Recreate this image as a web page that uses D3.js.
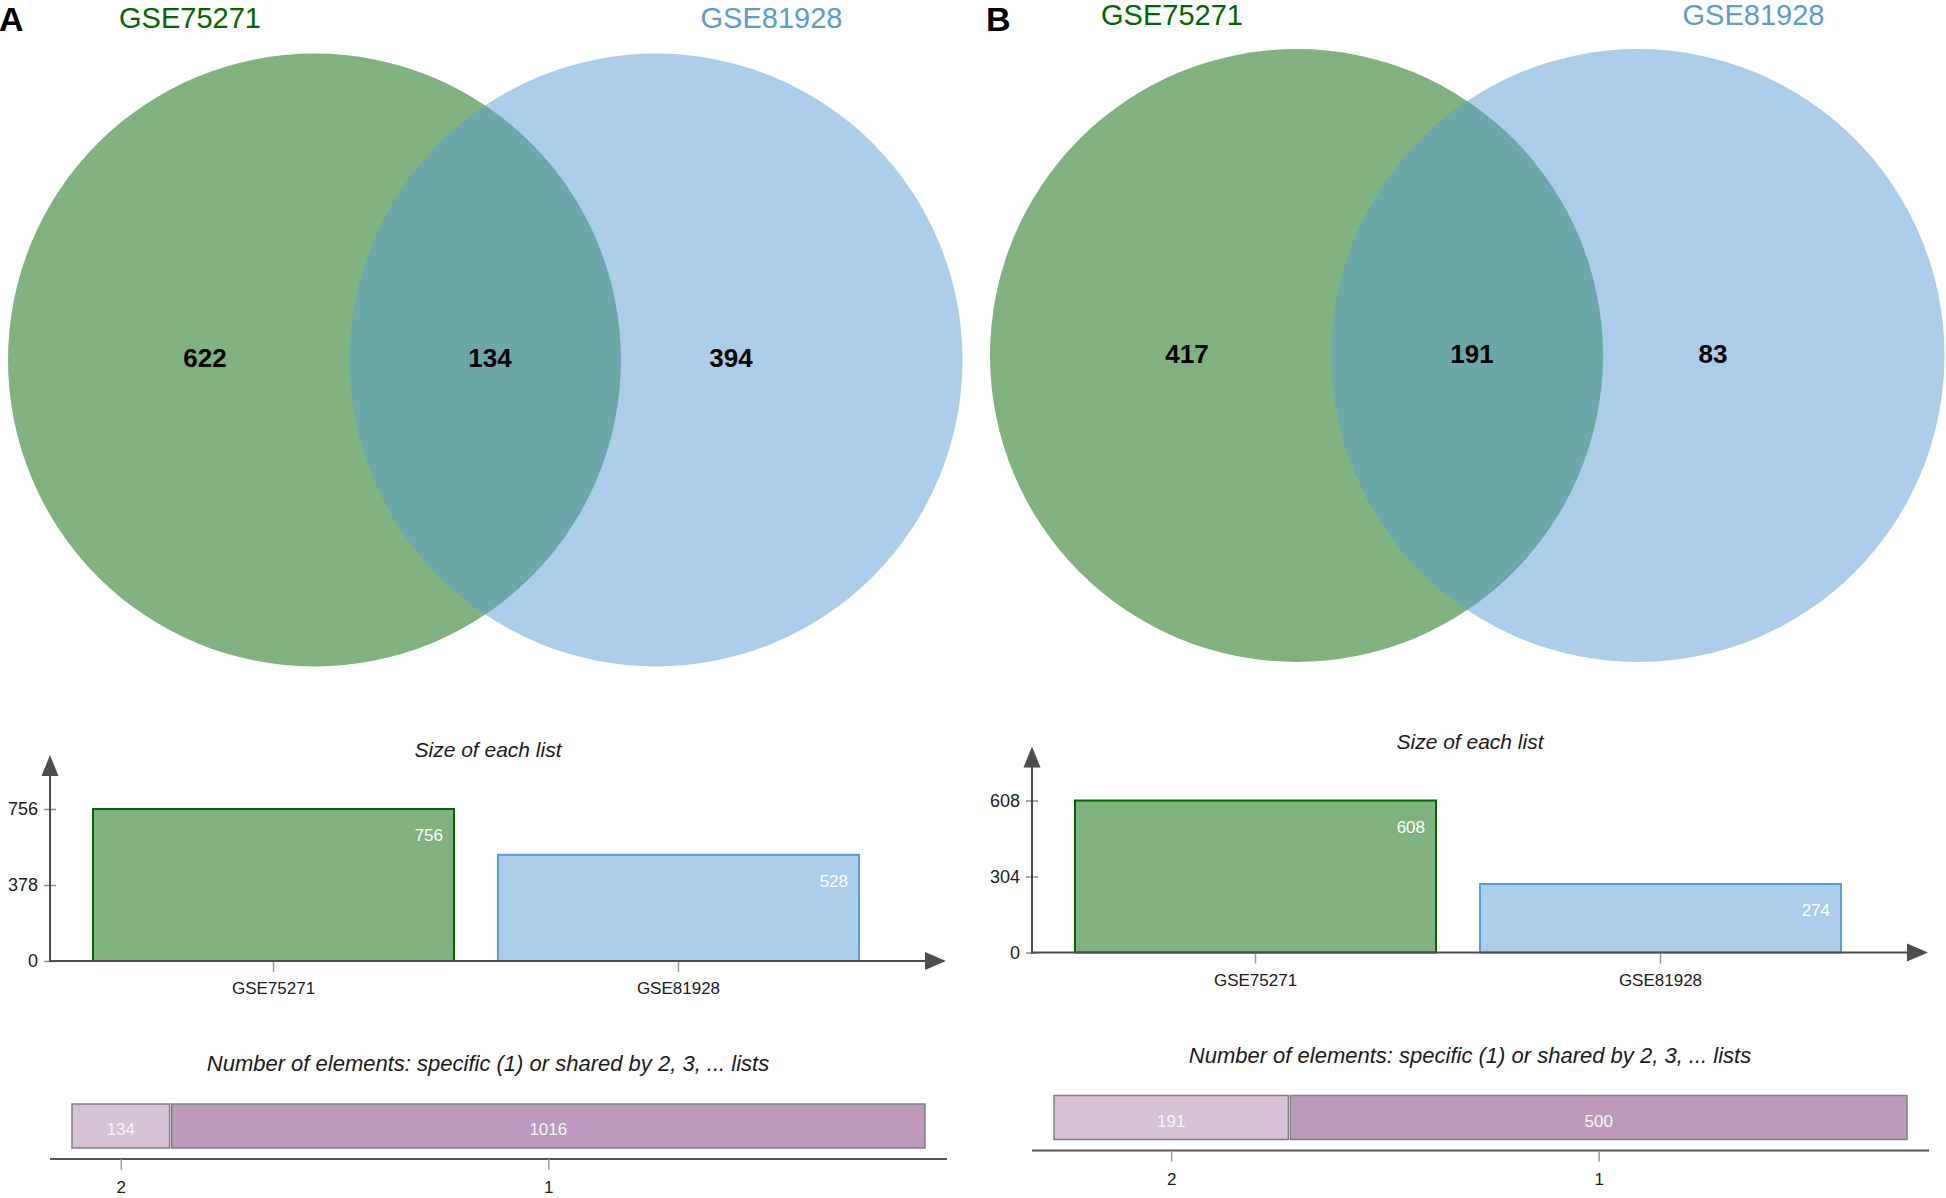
<!DOCTYPE html>
<html>
<head>
<meta charset="utf-8">
<script src="https://cdn.jsdelivr.net/npm/d3@7"></script>
<style>
  html, body { margin: 0; padding: 0; background: #ffffff; }
  svg { display: block; font-family: "Liberation Sans", Arial, sans-serif; }
</style>
</head>
<body>
<svg id="chart" width="1946" height="1198"></svg>
<script>
// ---------------- DATA ----------------
const setNames = ["GSE75271", "GSE81928"];
const setColors = ["#006600", "#5a9bd4"];
const panelLetters = ["A", "B"];

// Venn region counts: [only set 1, shared, only set 2]
const vennCountsA = [622, 134, 394];
const vennCountsB = [417, 191, 83];

// Size of each list
const listSizesA = [756, 528];
const listSizesB = [608, 274];
const yTicksA = [0, 378, 756];
const yTicksB = [0, 304, 608];

// Number of elements shared by k lists
const sharedLabels = ["2", "1"];
const sharedCountsA = [134, 1016];
const sharedCountsB = [191, 500];
const sharedColors = ["#d6c1d7", "#bd9abd"];

// ---------------- LAYOUT ----------------
const svg = d3.select("#chart");
svg.append("rect").attr("width", 1946).attr("height", 1198).attr("fill", "#ffffff");

const panels = [
  { letter: panelLetters[0], venn: vennCountsA, sizes: listSizesA, yTicks: yTicksA, shared: sharedCountsA, dx: 0, vdy: 0, cdy: 0, lx: -1 },
  { letter: panelLetters[1], venn: vennCountsB, sizes: listSizesB, yTicks: yTicksB, shared: sharedCountsB, dx: 982, vdy: -4.5, cdy: -8.5, lx: 4 }
];

const venn = { cy: 360, r: 306.5, cx: [314.5, 656], labelX: [205, 490, 731], labelY: 367 };
const axisColor = "#4d4d4d";
const textColor = "#1a1a1a";

panels.forEach(p => {
  const g = svg.append("g").attr("transform", `translate(${p.dx},0)`);

  // Panel letter
  g.append("text").attr("x", p.lx).attr("y", 30.5)
    .attr("font-size", 34).attr("font-weight", "bold").attr("fill", "#000")
    .text(p.letter);

  // Set names
  const nameX = [190, 771.5];
  g.selectAll("text.setname").data(setNames).join("text")
    .attr("class", "setname")
    .attr("x", (d, i) => nameX[i]).attr("y", 27.5 + p.vdy + (p.dx ? 1.5 : 0))
    .attr("text-anchor", "middle").attr("font-size", 29)
    .attr("fill", (d, i) => setColors[i]).text(d => d);

  // Venn
  const gv = g.append("g").attr("transform", `translate(0,${p.vdy})`);
  gv.selectAll("circle").data(setNames).join("circle")
    .attr("cx", (d, i) => venn.cx[i]).attr("cy", venn.cy).attr("r", venn.r)
    .attr("fill", (d, i) => setColors[i]).attr("fill-opacity", 0.5);
  gv.selectAll("text.cnt").data(p.venn).join("text")
    .attr("class", "cnt")
    .attr("x", (d, i) => venn.labelX[i]).attr("y", venn.labelY)
    .attr("text-anchor", "middle").attr("font-size", 26).attr("font-weight", "bold")
    .attr("fill", "#000").text(d => d);

  // ---- Size of each list ----
  const gc = g.append("g").attr("transform", `translate(0,${p.cdy})`);
  const y0 = 961;
  const y = d3.scaleLinear().domain([0, d3.max(p.sizes)]).range([y0, 809]);
  const x = d3.scaleBand().domain(setNames).range([93, 859]).paddingInner(0.1086).paddingOuter(0);

  gc.append("text").attr("x", 488).attr("y", 757).attr("text-anchor", "middle")
    .attr("font-size", 21).attr("font-style", "italic").attr("fill", textColor)
    .text("Size of each list");

  gc.selectAll("rect.bar").data(p.sizes).join("rect")
    .attr("class", "bar")
    .attr("x", (d, i) => x(setNames[i])).attr("y", d => y(d))
    .attr("width", x.bandwidth()).attr("height", d => y0 - y(d))
    .attr("fill", (d, i) => setColors[i]).attr("fill-opacity", 0.5)
    .attr("stroke", (d, i) => setColors[i]).attr("stroke-width", 2);

  gc.selectAll("text.val").data(p.sizes).join("text")
    .attr("class", "val")
    .attr("x", (d, i) => x(setNames[i]) + x.bandwidth() - 11).attr("y", d => y(d) + 32)
    .attr("text-anchor", "end").attr("font-size", 17).attr("fill", "#ffffff")
    .text(d => d);

  // y axis
  const yAxis = gc.append("g").attr("transform", "translate(50,0)")
    .call(d3.axisLeft(y).tickValues(p.yTicks).tickSize(6).tickPadding(6).tickFormat(d3.format("d")));
  yAxis.select(".domain").remove();
  yAxis.selectAll(".tick line").attr("x1", -6).attr("x2", 6).attr("stroke", "#888").attr("stroke-width", 1.5);
  yAxis.selectAll(".tick text").attr("font-size", 18).attr("fill", textColor)
    .attr("font-family", "Liberation Sans, Arial, sans-serif");

  // x axis
  const xAxis = gc.append("g").attr("transform", `translate(0,${y0})`)
    .call(d3.axisBottom(x).tickSize(11).tickPadding(10));
  xAxis.select(".domain").remove();
  xAxis.selectAll(".tick line").attr("stroke", "#999").attr("stroke-width", 1.5);
  xAxis.selectAll(".tick text").attr("font-size", 17).attr("fill", textColor)
    .attr("font-family", "Liberation Sans, Arial, sans-serif");

  // axis lines with arrows
  gc.append("line").attr("x1", 50).attr("x2", 50).attr("y1", y0 + 1).attr("y2", 775)
    .attr("stroke", axisColor).attr("stroke-width", 2);
  gc.append("path").attr("d", "M41.5,776 L58.5,776 L50,755 Z").attr("fill", axisColor);
  gc.append("line").attr("x1", 49).attr("x2", 926).attr("y1", y0).attr("y2", y0)
    .attr("stroke", axisColor).attr("stroke-width", 2);
  gc.append("path").attr("d", `M925,${y0 - 9} L925,${y0 + 9} L946,${y0} Z`).attr("fill", axisColor);

  // ---- Number of elements ----
  gc.append("text").attr("x", 488).attr("y", 1071).attr("text-anchor", "middle")
    .attr("font-size", 22).attr("font-style", "italic").attr("fill", textColor)
    .text("Number of elements: specific (1) or shared by 2, 3, ... lists");

  const total = d3.sum(p.shared);
  const xs = d3.scaleLinear().domain([0, total]).range([71, 926]);
  const starts = p.shared.map((d, i) => d3.sum(p.shared.slice(0, i)));
  const mids = p.shared.map((d, i) => starts[i] + d / 2);

  gc.selectAll("rect.seg").data(p.shared).join("rect")
    .attr("class", "seg")
    .attr("x", (d, i) => xs(starts[i]) + 1).attr("y", 1104)
    .attr("width", (d, i) => xs(starts[i] + d) - xs(starts[i]) - 2).attr("height", 44)
    .attr("fill", (d, i) => sharedColors[i])
    .attr("stroke", "#7f7f7f").attr("stroke-width", 1.5);

  gc.selectAll("text.seg").data(p.shared).join("text")
    .attr("class", "seg")
    .attr("x", (d, i) => xs(mids[i])).attr("y", 1135)
    .attr("text-anchor", "middle").attr("font-size", 17).attr("fill", "#f8f8f8")
    .text(d => d);

  gc.append("line").attr("x1", 50).attr("x2", 947).attr("y1", 1159).attr("y2", 1159)
    .attr("stroke", "#555").attr("stroke-width", 2);
  const sAxis = gc.append("g").attr("transform", "translate(0,1159)")
    .call(d3.axisBottom(xs).tickValues(mids).tickSize(11).tickPadding(11)
      .tickFormat((d, i) => sharedLabels[i]));
  sAxis.select(".domain").remove();
  sAxis.selectAll(".tick line").attr("stroke", "#999").attr("stroke-width", 1.5);
  sAxis.selectAll(".tick text").attr("font-size", 17).attr("fill", textColor)
    .attr("font-family", "Liberation Sans, Arial, sans-serif");
});
</script>
</body>
</html>
